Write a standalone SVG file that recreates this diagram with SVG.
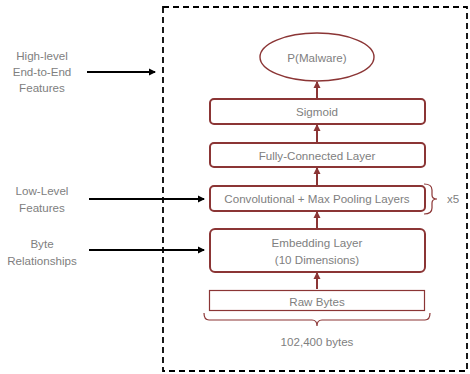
<svg xmlns="http://www.w3.org/2000/svg" width="470" height="374" viewBox="0 0 470 374">
<style>
.t{font-family:"Liberation Sans",Arial,sans-serif;font-size:11.6px;fill:#808080;text-anchor:middle;dominant-baseline:central}
.n{fill:#fff;stroke:#8b3535;stroke-width:2}
.e{fill:none;stroke:#8b3535;stroke-width:2}
.k{fill:none;stroke:#000;stroke-width:2}
.b{fill:none;stroke:#8b3535;stroke-width:1.2}
</style>
<defs>
<marker id="ar" markerWidth="8" markerHeight="8" refX="6" refY="4" orient="auto" markerUnits="userSpaceOnUse">
<path d="M0,0.5 L7,4 L0,7.5 Z" fill="#8b3535"/>
</marker>
<marker id="ak" markerWidth="8" markerHeight="8" refX="6" refY="4" orient="auto" markerUnits="userSpaceOnUse">
<path d="M0,0.5 L7,4 L0,7.5 Z" fill="#000"/>
</marker>
</defs>
<rect x="163" y="7" width="304" height="364" fill="none" stroke="#000" stroke-width="1.8" stroke-dasharray="6,4"/>
<g id="edges">
<line class="e" x1="317" y1="98" x2="317" y2="82" marker-end="url(#ar)"/>
<line class="e" x1="317" y1="142" x2="317" y2="125" marker-end="url(#ar)"/>
<line class="e" x1="317" y1="185" x2="317" y2="168" marker-end="url(#ar)"/>
<line class="e" x1="317" y1="228" x2="317" y2="212" marker-end="url(#ar)"/>
<line class="e" x1="317" y1="289" x2="317" y2="273" marker-end="url(#ar)"/>
<line class="k" x1="87" y1="72" x2="155" y2="72" marker-end="url(#ak)"/>
<line class="k" x1="89" y1="199" x2="204" y2="199" marker-end="url(#ak)"/>
<line class="k" x1="89" y1="250" x2="204" y2="250" marker-end="url(#ak)"/>
</g>
<g id="pmalware">
<ellipse cx="317" cy="57" rx="57" ry="24" fill="#fff" stroke="#8b3535" stroke-width="1.4"/>
<text class="t" x="317" y="57">P(Malware)</text>
</g>
<g id="sigmoid">
<rect class="n" x="210" y="99" width="215" height="25" rx="4"/>
<text class="t" x="317" y="111.5">Sigmoid</text>
</g>
<g id="fc">
<rect class="n" x="210" y="143" width="215" height="24" rx="4"/>
<text class="t" x="317" y="155">Fully-Connected Layer</text>
</g>
<g id="conv">
<rect class="n" x="210" y="186" width="215" height="25" rx="4"/>
<text class="t" x="317" y="198.5">Convolutional + Max Pooling Layers</text>
</g>
<g id="embed">
<rect class="n" x="210" y="229" width="215" height="43" rx="5"/>
<text class="t" x="317" y="242">Embedding Layer</text>
<text class="t" x="317" y="259">(10 Dimensions)</text>
</g>
<g id="raw">
<rect x="209.5" y="290.5" width="215" height="20" fill="#fff" stroke="#8b3535" stroke-width="1.2"/>
<text class="t" x="317" y="301">Raw Bytes</text>
</g>
<g id="bottombrace">
<path class="b" d="M204,313 Q204,320 209,320 L312,320 Q317,320 317,326 Q317,320 322,320 L425,320 Q430,320 430,313"/>
<text class="t" x="317" y="341">102,400 bytes</text>
</g>
<g id="x5brace">
<path class="b" d="M424,184 Q432,184 432,190 L432,195 Q432,199 437,199 Q432,199 432,203 L432,208 Q432,214 424,214"/>
<text class="t" x="453" y="198">x5</text>
</g>
<g id="labels">
<text class="t" x="42" y="55">High-level</text>
<text class="t" x="42" y="71">End-to-End</text>
<text class="t" x="42" y="87">Features</text>
<text class="t" x="42" y="190">Low-Level</text>
<text class="t" x="42" y="207">Features</text>
<text class="t" x="42" y="243">Byte</text>
<text class="t" x="42" y="260">Relationships</text>
</g>
</svg>
